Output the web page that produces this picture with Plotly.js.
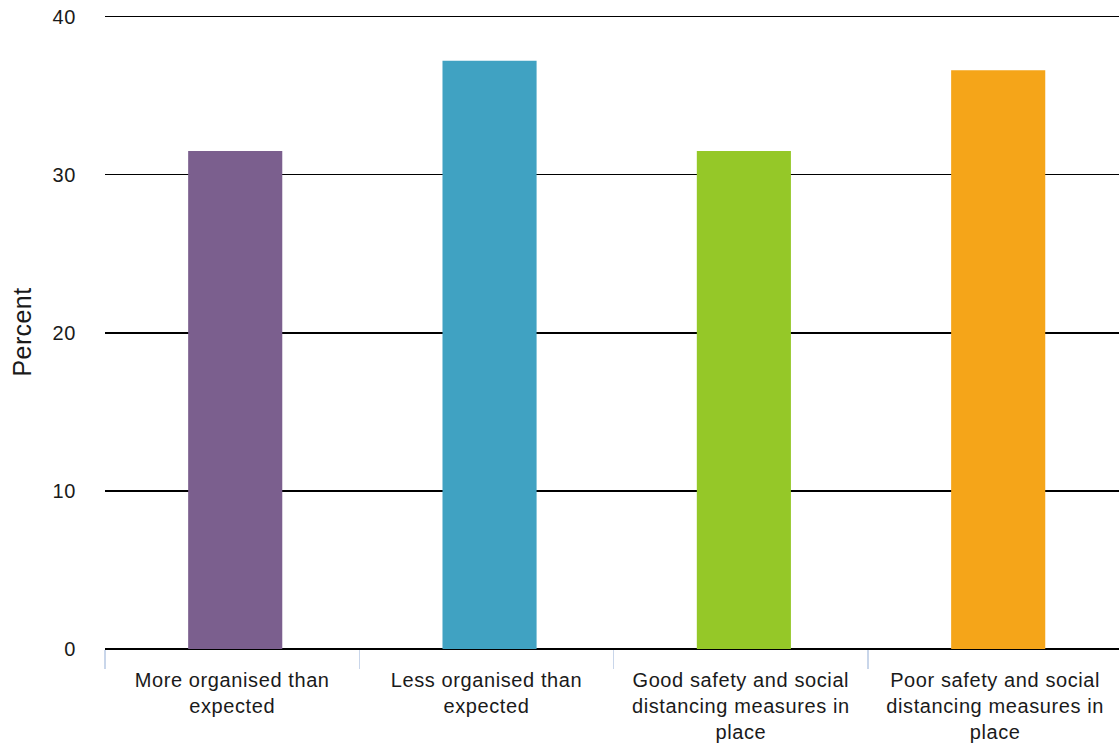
<!DOCTYPE html>
<html>
<head>
<meta charset="utf-8">
<script src="https://cdn.plot.ly/plotly-3.0.1.min.js"></script>
<style>
  html, body { margin: 0; padding: 0; background: #fff; }
  #chart { width: 1119px; height: 748px; }
  #chart .xtick text, #chart .ytick text { letter-spacing: 0.6px; }
  #chart .ytitle { letter-spacing: 0.4px; }
</style>
</head>
<body>
<div id="chart"></div>
<script>
const categories = [
  "More organised than<br>expected",
  "Less organised than<br>expected",
  "Good safety and social<br>distancing measures in<br>place",
  "Poor safety and social<br>distancing measures in<br>place"
];
const percentValues = [31.5, 37.2, 31.5, 36.6];
const barColors = ["#7B5F8E", "#40A2C2", "#95C828", "#F5A519"];
const yTickValues = [0, 10, 20, 30, 40];

const trace = {
  type: "bar",
  x: categories,
  y: percentValues,
  width: 0.37,
  offset: -0.173,
  marker: { color: barColors, line: { width: 0 } },
  hoverinfo: "x+y"
};

const fontFamily = "'Liberation Sans', Arial, Helvetica, sans-serif";

const layout = {
  width: 1119,
  height: 748,
  margin: { l: 105, r: 0, t: 15, b: 99, pad: 0 },
  paper_bgcolor: "#ffffff",
  plot_bgcolor: "#ffffff",
  font: { family: fontFamily, size: 20, color: "#1a1a1a" },
  showlegend: false,
  xaxis: {
    type: "category",
    range: [-0.5, 3.487],
    showgrid: false,
    zeroline: false,
    showline: false,
    ticks: "outside",
    tickson: "boundaries",
    ticklen: 19,
    tickwidth: 1.5,
    tickcolor: "#c9d6ea",
    ticklabelstandoff: 17,
    tickfont: { family: fontFamily, size: 20, color: "#1a1a1a" },
    automargin: false
  },
  yaxis: {
    range: [0, 40.1],
    tickvals: yTickValues,
    ticktext: yTickValues.map(String),
    showgrid: true,
    gridcolor: "#000000",
    gridwidth: 1.6,
    zeroline: true,
    zerolinecolor: "#000000",
    zerolinewidth: 2.2,
    showline: false,
    ticks: "",
    ticklabelstandoff: 28,
    tickfont: { family: fontFamily, size: 20, color: "#1a1a1a" },
    title: { text: "Percent", font: { family: fontFamily, size: 25, color: "#1a1a1a" }, standoff: 15 },
    automargin: false
  }
};

Plotly.newPlot("chart", [trace], layout, { displayModeBar: false, staticPlot: true });
</script>
</body>
</html>
